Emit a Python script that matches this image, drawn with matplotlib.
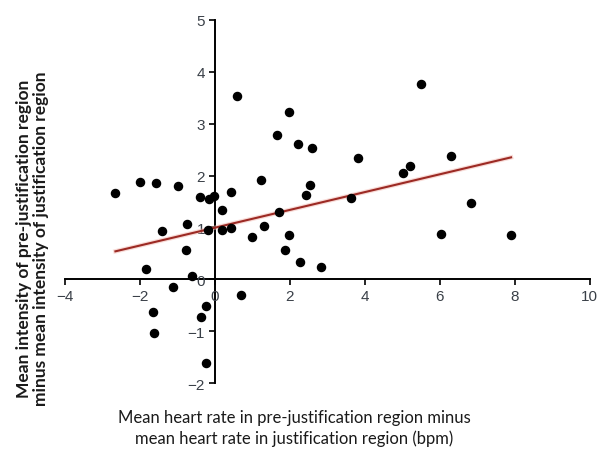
import matplotlib
matplotlib.use("Agg")
import matplotlib.pyplot as plt

# heart-rate difference (bpm) vs intensity difference
hr_diff = [0.59, 1.99, 1.66, 2.22, 2.59, 1.22, 2.55, 2.43, -1.99, -1.57,
           -0.98, -2.65, 0.43, -0.40, -0.02, -0.15, 0.18, 1.70, 1.32, 0.20,
           0.44, -0.18, -0.73, -1.41, 0.99, 1.99, -0.76, 1.86, 2.26, 2.84,
           -1.83, -0.62, -1.12, 0.70, -0.23, -0.37, -1.66, -1.63, -0.24,
           5.49, 3.83, 6.31, 5.21, 5.02, 3.63, 6.84, 6.02, 7.90]
int_diff = [3.54, 3.23, 2.79, 2.60, 2.54, 1.92, 1.81, 1.63, 1.88, 1.85,
            1.79, 1.67, 1.68, 1.59, 1.60, 1.55, 1.33, 1.30, 1.03, 0.96,
            0.99, 0.95, 1.06, 0.94, 0.82, 0.85, 0.56, 0.56, 0.33, 0.23,
            0.20, 0.06, -0.15, -0.31, -0.51, -0.72, -0.63, -1.03, -1.62,
            3.76, 2.33, 2.37, 2.19, 2.04, 1.56, 1.47, 0.87, 0.85]

trend_x = [-2.65, 7.90]
trend_y = [0.54, 2.35]

x_ticks = [-4, -2, 0, 2, 4, 6, 8, 10]
y_ticks = [-2, -1, 0, 1, 2, 3, 4, 5]

fig = plt.figure(figsize=(6.0, 4.52), dpi=100)
ax = fig.add_axes([0.108, 0.150, 0.875, 0.804])

ax.plot(trend_x, trend_y, color="#f2b8b0", linewidth=3.2, alpha=0.5, zorder=2)
ax.plot(trend_x, trend_y, color="#9c2a24", linewidth=1.5, zorder=3)
ax.scatter(hr_diff, int_diff, s=34, color="black", zorder=4)

ax.set_xlim(-4, 10)
ax.set_ylim(-2, 5)
ax.set_xticks(x_ticks)
ax.set_yticks(y_ticks)

ax.spines["left"].set_position(("data", 0))
ax.spines["bottom"].set_position(("data", 0))
ax.spines["top"].set_visible(False)
ax.spines["right"].set_visible(False)
for side in ("left", "bottom"):
    ax.spines[side].set_linewidth(1.4)
    ax.spines[side].set_zorder(1)

ax.tick_params(axis="both", direction="out", length=4, width=1.2,
               labelsize=11, labelcolor="#3a4048", pad=3)
for lbl in ax.get_xticklabels() + ax.get_yticklabels():
    lbl.set_family("Liberation Sans")

fig.text(0.49, 0.052, "Mean heart rate in pre-justification region minus\n"
         "mean heart rate in justification region (bpm)",
         ha="center", va="center", fontsize=12, family="Lato",
         linespacing=1.3, color="#1a1a1a")
fig.text(0.054, 0.472, "Mean intensity of pre-justification region\n"
         "minus mean intensity of justification region",
         ha="center", va="center", rotation=90, fontsize=12.5,
         family="Lato", fontweight="bold", linespacing=1.1,
         color="#1a1a1a")

fig.savefig("out.png", dpi=100, facecolor="white")
